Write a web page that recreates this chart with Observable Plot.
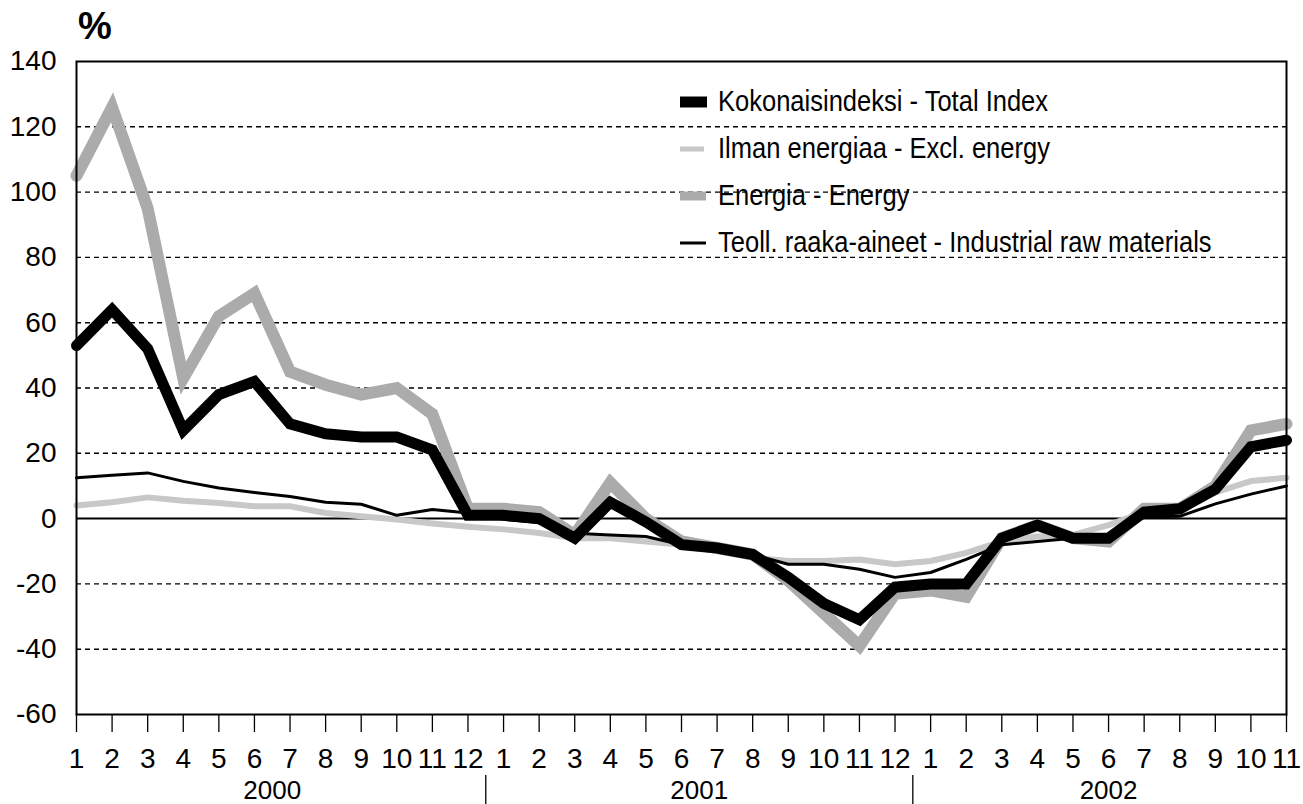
<!DOCTYPE html>
<html><head><meta charset="utf-8">
<script src="https://cdn.jsdelivr.net/npm/d3@7"></script>
<script src="https://cdn.jsdelivr.net/npm/@observablehq/plot@0.6"></script>
<style>
body{margin:0;background:#fff;}
#wrap{position:relative;width:1303px;height:804px;font-family:"Liberation Sans",Arial,sans-serif;color:#000;}
#pct{position:absolute;left:78px;top:3px;font-size:38px;font-weight:bold;line-height:46px;}
#legend{position:absolute;left:680px;top:78px;font-family:"Liberation Sans",Arial,sans-serif;font-size:29px;}
.row{display:flex;align-items:center;height:47px;white-space:nowrap;}
.row svg{margin-right:10px;flex:none;}
.row span{display:inline-block;transform:scaleX(0.88);transform-origin:left center;}
</style></head><body>
<div id="wrap"><div id="chart"></div><div id="pct">%</div><div id="legend"></div></div>
<script>
// categories
const monthLabels = ["1","2","3","4","5","6","7","8","9","10","11","12",
                     "1","2","3","4","5","6","7","8","9","10","11","12",
                     "1","2","3","4","5","6","7","8","9","10","11"];
const monthYear = [2000,2000,2000,2000,2000,2000,2000,2000,2000,2000,2000,2000,
                   2001,2001,2001,2001,2001,2001,2001,2001,2001,2001,2001,2001,
                   2002,2002,2002,2002,2002,2002,2002,2002,2002,2002,2002];
const years = [2000, 2001, 2002];
const yTicks = [-60,-40,-20,0,20,40,60,80,100,120,140];
const gridValues = [-40,-20,20,40,60,80,100,120];

// series (% change)
const totalIndex = [53,64,52,27,38,42,29,26,25,25,21,1,
                    1,0,-6,5,-1,-8,-9,-11,-18,-26,-31,-21,
                    -20,-20,-6,-2,-6,-6,2,3,9,22,24];
const exclEnergy = [4,5,6.5,5.5,4.8,3.8,3.8,1.7,0.7,-0.3,-1.5,-2.5,
                    -3.3,-4.4,-6,-6,-7,-8,-9,-12,-13,-13,-12.5,-14,
                    -13,-10.5,-7,-5.5,-5,-2,2,3,8,11.5,12.5];
const energy = [105,126,95,43,62,69,45,41,38,40,32,3,
                3,2,-5,11,0,-7,-9,-11,-19,-29,-39,-23,
                -22,-24,-6,-2,-6,-7,3,3,10,27,29];
const rawMaterials = [12.5,13.3,14,11.4,9.4,8,6.8,5,4.4,1,2.8,1.7,
                      -0.2,-1.3,-4.5,-5,-5.5,-8,-9,-11,-14,-14,-15.5,-18,
                      -16.5,-12.5,-8,-7,-6,-5,0.5,0.7,4.5,7.5,10];

const seriesNames = ["Kokonaisindeksi - Total Index","Ilman energiaa - Excl. energy","Energia - Energy","Teoll. raaka-aineet - Industrial raw materials"];

const idx = d3.range(monthLabels.length);
const toRows = vals => idx.map(i => ({i, v: vals[i]}));

// year label centres and separators derived from categories
const yearInfo = years.map(y => {
  const ii = idx.filter(i => monthYear[i] === y);
  const lo = ii[0] - 0.5, hi = ii[ii.length-1] + 0.5;
  return {year: y, center: (lo + hi) / 2, start: lo};
});
const separators = yearInfo.slice(1).map(d => d.start);

const chart = Plot.plot({
  width: 1303, height: 804,
  marginLeft: 76, marginRight: 17, marginTop: 61, marginBottom: 90,
  style: {fontFamily: '"Liberation Sans", Arial, sans-serif', fontSize: "28px", background: "#fff", color: "#000"},
  x: {domain: [0, monthLabels.length - 1]},
  y: {domain: [-60, 140]},
  marks: [
    Plot.ruleY(gridValues, {stroke: "#000", strokeWidth: 1.4, strokeDasharray: "5,4"}),
    Plot.ruleY([0], {stroke: "#000", strokeWidth: 2}),
    Plot.line(toRows(energy), {x: "i", y: "v", stroke: "#ababab", strokeWidth: 12, strokeLinejoin: "miter", strokeMiterlimit: 4}),
    Plot.line(toRows(exclEnergy), {x: "i", y: "v", stroke: "#c8c8c8", strokeWidth: 6, strokeLinejoin: "round"}),
    Plot.line(toRows(totalIndex), {x: "i", y: "v", stroke: "#000", strokeWidth: 11, strokeLinejoin: "miter", strokeMiterlimit: 4}),
    Plot.line(toRows(rawMaterials), {x: "i", y: "v", stroke: "#000", strokeWidth: 3, strokeLinejoin: "round"}),
    Plot.frame({stroke: "#000", strokeWidth: 2}),
    Plot.axisY({ticks: yTicks, tickFormat: d => String(d), tickSize: 0, tickPadding: 20, fontSize: 28, label: null}),
    Plot.axisX({ticks: idx, tickFormat: i => monthLabels[i], tickSize: 18, tickPadding: 16, fontSize: 28, label: null, strokeWidth: 1.3}),
    Plot.ruleX(separators, {stroke: "#000", strokeWidth: 1.3, insetTop: 714, insetBottom: -90}),
    Plot.text(yearInfo, {x: "center", text: d => String(d.year), frameAnchor: "bottom", dy: 84, fontSize: 26})
  ]
});
document.getElementById("chart").appendChild(chart);

// legend
const swatches = [
  {w: 27, h: 11, color: "#000"},
  {w: 24, h: 5, color: "#c8c8c8"},
  {w: 26, h: 9, color: "#ababab"},
  {w: 26, h: 3, color: "#000"}
];
const legend = document.getElementById("legend");
seriesNames.forEach((name, k) => {
  const s = swatches[k];
  const row = document.createElement("div");
  row.className = "row";
  row.innerHTML = `<svg width="28" height="14"><rect x="0" y="${7 - s.h/2}" width="${s.w}" height="${s.h}" fill="${s.color}"/></svg><span>${name}</span>`;
  legend.appendChild(row);
});
</script>
</body></html>
